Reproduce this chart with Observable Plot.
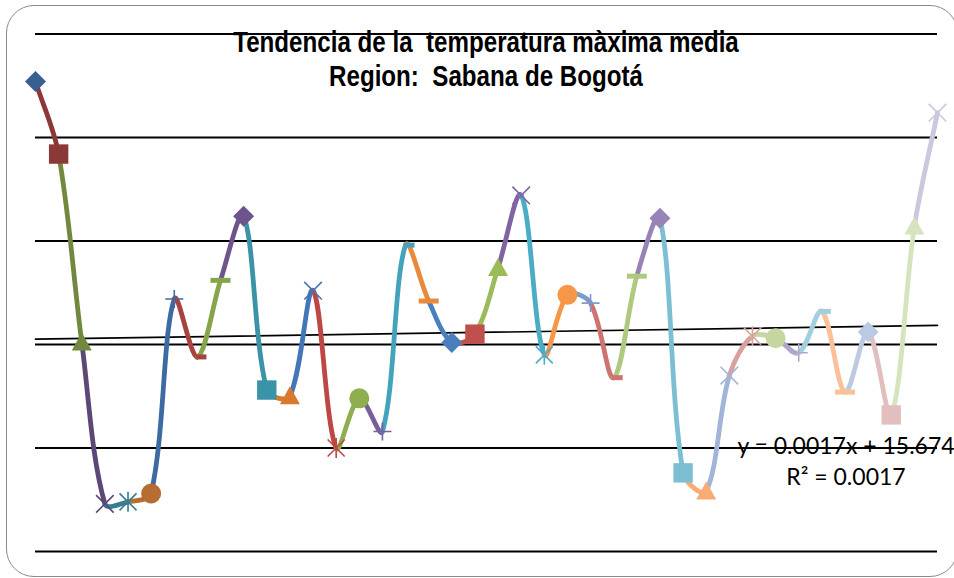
<!DOCTYPE html>
<html>
<head>
<meta charset="utf-8">
<script src="https://cdn.jsdelivr.net/npm/d3@7"></script>
<script src="https://cdn.jsdelivr.net/npm/@observablehq/plot@0.6"></script>
<style>
  html, body { margin: 0; padding: 0; background: #fff; overflow: hidden; }
  #wrap { position: relative; width: 954px; height: 578px; overflow: hidden; background: #fff; }
  #chart { position: absolute; left: 0; top: 0; }
  .frame { position: absolute; left: 6px; top: 5px; width: 952px; height: 572px; box-sizing: border-box;
           border: 1.6px solid #8a8a8a; border-radius: 28px; pointer-events: none; }
  .title { position: absolute; left: 0; top: 24.6px; width: 972px; text-align: center;
           font-family: "Liberation Sans", Arial, sans-serif;
           font-weight: bold; font-size: 30px; line-height: 34px; color: #000; white-space: pre;
           transform: scaleX(0.805); transform-origin: 486px 0; }
  .eq { position: absolute; left: 646px; top: 429.6px; width: 400px; text-align: center;
        font-family: Lato, "Open Sans", sans-serif; font-size: 23px; line-height: 31px; color: #000; white-space: pre; }
</style>
</head>
<body>
<div id="wrap">
  <div id="chart"></div>
  <div class="frame"></div>
  <div class="title">Tendencia de la  temperatura màxima media
Region:  Sabana de Bogotá</div>
  <div class="eq">y = 0.0017x + 15.674
R² = 0.0017</div>
</div>
<script>
// ---- data ----
const temps = [16.92,16.57,15.66,14.88,14.89,14.93,15.87,15.59,15.96,16.27,
               15.43,15.40,15.91,15.15,15.39,15.23,16.13,15.86,15.66,15.70,
               16.02,16.37,15.60,15.89,15.85,15.49,15.98,16.26,15.03,14.94,
               15.50,15.69,15.68,15.61,15.81,15.42,15.71,15.31,16.22,16.77];
const seriesColors = ["#375F92","#8C3836","#71893F","#5C4776","#357D91","#B66D31",
                      "#3D6AA1","#A8423F","#86A44A","#6E548D","#3A93A7","#D9792F",
                      "#4376B8","#BC4744","#8FAE50","#7A5E9A","#44A3BC","#E98A3B",
                      "#4A7EBD","#C0504D","#9BBB59","#8064A2","#4BACC6","#F79646",
                      "#7D9ACC","#CD7371","#AFC97F","#9883B6","#7CBFD3","#F9AB76",
                      "#A2B4D8","#D9A09F","#C4D7A0","#B2A6C8","#A0CFDE","#FAC09A",
                      "#BCC9E2","#E2BFBF","#D6E3BF","#CDC6DC"];
const markerCycle = ["diamond","square","triangle","x","star","circle","plus","dot","dash"];
const gridValues = [14.65, 15.15, 15.65, 16.15, 16.65, 17.15];
const trendSlope = 0.0017;
const trendIntercept = 15.674;
const trendX = [1, 40];

// ---- derived tables ----
const N = temps.length;
const points = temps.map((t, i) => ({x: i + 1, y: t, color: seriesColors[i], marker: markerCycle[i % markerCycle.length]}));
const segs = [];
for (let k = 1; k < N; k++) {
  for (const j of [k - 2, k - 1, k, k + 1]) {
    const jj = Math.max(0, Math.min(N - 1, j));
    segs.push({x: jj + 1, y: temps[jj], seg: k, color: seriesColors[k]});
  }
}
const trend = trendX.map(x => ({x, y: trendSlope * x + trendIntercept}));

// Excel-like smoothing: only the middle Bezier piece of 4 neighbouring points,
// with control arms scaled by the neighbouring chord lengths
function excelSmooth(context) {
  let pts;
  const dist = (a, b) => Math.hypot(b[0] - a[0], b[1] - a[1]);
  return {
    areaStart() {}, areaEnd() {},
    lineStart() { pts = []; },
    point(x, y) { pts.push([+x, +y]); },
    lineEnd() {
      if (pts.length < 4) return;
      const [p0, p1, p2, p3] = pts;
      const d01 = dist(p0, p1), d12 = dist(p1, p2), d23 = dist(p2, p3);
      const f1 = d01 + d12 > 0 ? d12 / (d01 + d12) / 3 : 0;
      const f2 = d12 + d23 > 0 ? d12 / (d12 + d23) / 3 : 0;
      context.moveTo(p1[0], p1[1]);
      context.bezierCurveTo(p1[0] + (p2[0] - p0[0]) * f1, p1[1] + (p2[1] - p0[1]) * f1,
                            p2[0] - (p3[0] - p1[0]) * f2, p2[1] - (p3[1] - p1[1]) * f2,
                            p2[0], p2[1]);
    }
  };
}

const R = s => Math.sqrt(s / Math.PI);
const symbols = {
  diamond: {draw(c, s) { const r = R(s) * 1.05; c.moveTo(0, -r); c.lineTo(r, 0); c.lineTo(0, r); c.lineTo(-r, 0); c.closePath(); }},
  square:  {draw(c, s) { const r = R(s) * 0.97; c.rect(-r, -r, 2 * r, 2 * r); }},
  triangle:{draw(c, s) { const r = R(s); c.moveTo(0, -r); c.lineTo(r, 0.8 * r); c.lineTo(-r, 0.8 * r); c.closePath(); }},
  circle:  {draw(c, s) { const r = R(s); c.moveTo(r, 0); c.arc(0, 0, r, 0, 2 * Math.PI); }},
  dot:     {draw(c, s) { const r = R(s); c.rect(-0.2 * r, -0.25 * r, 1.1 * r, 0.5 * r); }},
  dash:    {draw(c, s) { const r = R(s); c.rect(-r, -0.25 * r, 2 * r, 0.5 * r); }},
  x:       {draw(c, s) { const r = R(s) * 0.88; c.moveTo(-r, -r); c.lineTo(r, r); c.moveTo(r, -r); c.lineTo(-r, r); }},
  star:    {draw(c, s) { const r = R(s) * 0.85, v = R(s); c.moveTo(-r, -r); c.lineTo(r, r); c.moveTo(r, -r); c.lineTo(-r, r); c.moveTo(0, -v); c.lineTo(0, v); }},
  plus:    {draw(c, s) { const r = R(s) * 0.9; c.moveTo(-r, 0); c.lineTo(r, 0); c.moveTo(0, -r); c.lineTo(0, r); }}
};
const filledTypes = ["diamond","square","triangle","circle","dot","dash"];
const strokedTypes = ["x","star","plus"];

const markerMarks = [
  ...filledTypes.map(m => Plot.dot(points.filter(d => d.marker === m),
      {x: "x", y: "y", r: 10, symbol: symbols[m], fill: "color", stroke: "none"})),
  ...strokedTypes.map(m => Plot.dot(points.filter(d => d.marker === m),
      {x: "x", y: "y", r: 10, symbol: symbols[m], stroke: "color", fill: "none", strokeWidth: 1.6}))
];

const chart = Plot.plot({
  width: 954,
  height: 578,
  marginLeft: 35,
  marginRight: 17,
  marginTop: 33.5,
  marginBottom: 27,
  x: {domain: [1, 40], axis: null},
  y: {domain: [14.65, 17.15], axis: null},
  color: {type: "identity"},
  style: {background: "transparent", overflow: "visible"},
  marks: [
    Plot.ruleY(gridValues, {stroke: "#000", strokeWidth: 2}),
    Plot.line(trend, {x: "x", y: "y", stroke: "#000", strokeWidth: 1.7}),
    Plot.line(segs, {x: "x", y: "y", z: "seg", stroke: "color", strokeWidth: 4.8,
                     strokeLinecap: "round", strokeLinejoin: "round", curve: excelSmooth}),
    ...markerMarks
  ]
});
document.getElementById("chart").appendChild(chart);
</script>
</body>
</html>
